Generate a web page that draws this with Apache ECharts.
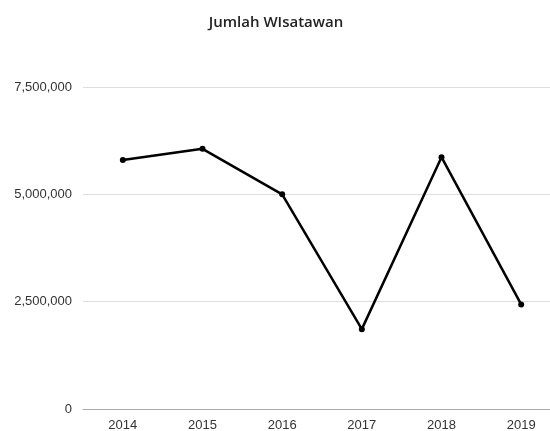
<!DOCTYPE html>
<html>
<head>
<meta charset="utf-8">
<script src="https://cdn.jsdelivr.net/npm/echarts@6/dist/echarts.min.js"></script>
<style>html,body{margin:0;padding:0;background:#fff}#c{width:550px;height:431px}</style>
</head>
<body>
<div id="c"></div>
<script>
const categories = ['2014', '2015', '2016', '2017', '2018', '2019'];
const wisatawan = [5800000, 6060000, 5000000, 1860000, 5865000, 2435000];
const yTicks = [0, 2500000, 5000000, 7500000];

const chart = echarts.init(document.getElementById('c'), null, {renderer: 'canvas'});
chart.setOption({
  animation: false,
  backgroundColor: '#ffffff',
  title: {
    text: 'Jumlah WIsatawan',
    left: 271, top: 10, textAlign: 'center',
    textStyle: {fontFamily: 'Open Sans', fontWeight: 600, fontSize: 15, color: '#222'}
  },
  grid: {left: 83, width: 478, top: 87, bottom: 22, containLabel: false, outerBoundsMode: 'none'},
  xAxis: {
    type: 'category', data: categories, boundaryGap: true,
    axisLine: {lineStyle: {color: '#aaa', width: 1}},
    axisTick: {show: false},
    axisLabel: {color: '#333', fontFamily: 'Liberation Sans', fontSize: 13, margin: 10}
  },
  yAxis: {
    type: 'value', min: yTicks[0], max: yTicks[yTicks.length - 1], interval: 2500000,
    axisLine: {show: false}, axisTick: {show: false},
    splitLine: {lineStyle: {color: '#dedede', width: 1}},
    axisLabel: {
      color: '#333', fontFamily: 'Liberation Sans', fontSize: 13, margin: 11,
      formatter: v => v.toLocaleString('en-US')
    }
  },
  series: [{
    type: 'line', data: wisatawan,
    lineStyle: {color: '#000', width: 2.5},
    itemStyle: {color: '#000'},
    symbol: 'circle', symbolSize: 6, showSymbol: true
  }]
});
</script>
</body>
</html>
